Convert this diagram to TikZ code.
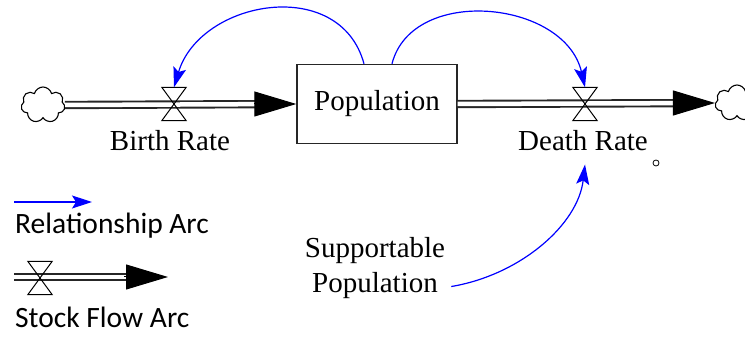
\documentclass[tikz,border=0pt]{standalone}
\usepackage{fontspec}
\setmainfont{Liberation Serif}
\newfontfamily\legendfont{Carlito}
\usetikzlibrary{arrows.meta,shapes.symbols}
\tikzset{
  stock/.style    = {draw=black!85, line width=1.4pt, minimum width=160pt, minimum height=79pt,
                     font=\fontsize{29}{32}\selectfont},
  valve/.style    = {minimum width=24pt, minimum height=33pt, inner sep=0pt},
  source/.style   = {cloud, cloud puffs=7, cloud ignores aspect, draw, line width=1.1pt,
                     minimum width=44pt, minimum height=36pt, inner sep=0pt},
  pipe/.style     = {draw=black!85, double=white, double distance=4.5pt, line width=1.9pt},
  flowhead/.style = {-{Triangle[length=42pt,width=25pt]}, line width=1pt},
  infoarc/.style  = {draw=blue, line width=1.2pt, -{Stealth[length=20pt,width=13pt,inset=4pt]}},
  varname/.style  = {font=\fontsize{29}{35}\selectfont, inner sep=0pt, align=center},
  legendtext/.style = {font=\legendfont\fontsize{29.5}{32}\selectfont, inner sep=0pt, anchor=base west},
  aux/.style      = {circle, draw, line width=0.8pt, minimum size=6pt, inner sep=0pt}
}
\newcommand{\valvesym}[1]{\draw[line width=1pt] (#1.north west) -- (#1.north east)
  -- (#1.south west) -- (#1.south east) -- cycle;}

\begin{document}
\begin{tikzpicture}[x=1pt,y=-1pt]
  \useasboundingbox (0,0) rectangle (745,339);
  % stock, flows and clouds
  \node[stock]  (pop)    at (377,104) {Population};
  \node[source] (cloudL) at (43,105) {};
  \node[source] (cloudR) at (737,103) {};
  \node[valve]  (birth)  at (174,104) {};
  \node[valve]  (death)  at (585,104) {};
  \draw[pipe, shorten >=40pt] (cloudL.east) -- (pop.west);
  \draw[flowhead] ([xshift=-42pt]pop.west) -- (pop.west);
  \draw[pipe, shorten >=40pt] (pop.east) -- (cloudR.west);
  \draw[flowhead] ([xshift=-42pt]cloudR.west) -- (cloudR.west);
  \valvesym{birth}
  \valvesym{death}
  \node[varname, anchor=base] (blabel) at (170,151) {Birth Rate};
  \node[varname, anchor=base] (dlabel) at (583,151) {Death Rate};
  \node[aux] (ghost) at (656,163) {};
  \node[varname, anchor=base] (supp) at (375,293) {Supportable\\Population};
  % information arcs
  \draw[infoarc] ([xshift=-13pt]pop.north) .. controls (340,-25) and (200,0) .. (birth.north);
  \draw[infoarc] ([xshift=15pt]pop.north) .. controls (412,-15) and (565,0) .. (death.north);
  \draw[infoarc] ([shift={(6pt,-18pt)}]supp.east) .. controls (520,275) and (578,225) .. ([shift={(2pt,-13pt)}]dlabel.south);
  % legend
  \coordinate (rstart) at (14,202);
  \coordinate (rend)   at (92,202);
  \draw[infoarc] (rstart) -- (rend);
  \node[legendtext] (rtext) at (15,234) {Relationship Arc};
  \coordinate (lstart) at (14,277);
  \coordinate (lend)   at (168,277);
  \node[valve] (lvalve) at (40,278) {};
  \draw[pipe, shorten >=42pt] (lstart) -- (lend);
  \draw[flowhead] ([xshift=-44pt]lend) -- (lend);
  \valvesym{lvalve}
  \node[legendtext] (stext) at (15,328) {Stock Flow Arc};
\end{tikzpicture}
\end{document}
